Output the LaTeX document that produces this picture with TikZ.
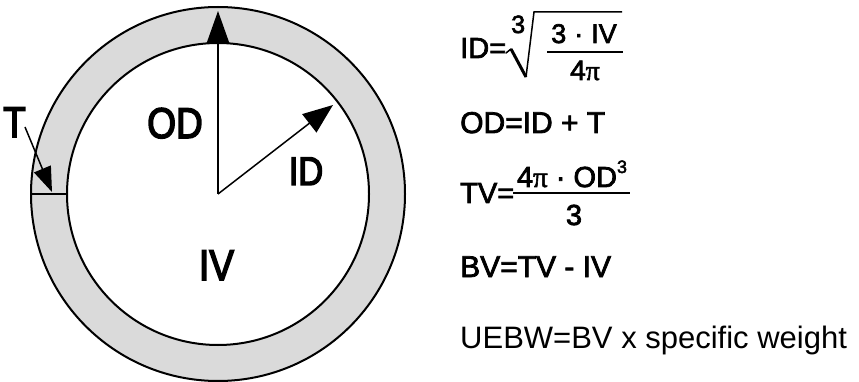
\documentclass[tikz,border=0pt]{standalone}
\usepackage{fontspec}
\setmainfont{Liberation Sans}
\newfontfamily\condf[FakeStretch=0.86,FakeBold=3.5]{Liberation Sans}
\newfontfamily\eqf[FakeBold=2.5]{Liberation Sans}
\newfontfamily\pif[FakeBold=2]{Liberation Serif}
\usetikzlibrary{arrows.meta}
\definecolor{ringgray}{RGB}{218,218,218}
\newcommand\myfs[1]{\fontsize{#1}{#1}\selectfont}
\tikzset{
  ringline/.style={line width=2pt},
  shaft/.style={line width=1.5pt},
  bigtip/.style={-{Triangle[length=33pt,width=23pt]}},
  idtip/.style={-{Triangle[length=30pt,width=23pt]}},
  ttipst/.style={-{Triangle[length=25pt,width=18pt]}},
  lbl/.style={inner sep=0pt,anchor=base,font=\condf\myfs{43}},
  eqw/.style={inner sep=0pt,anchor=base west},
  eqc/.style={inner sep=0pt,anchor=base},
  barline/.style={line width=2pt}
}
\begin{document}
\begin{tikzpicture}[x=1pt,y=-1pt]
\useasboundingbox (0,0) rectangle (859,382);
\coordinate (C) at (218,194);
\fill[ringgray,even odd rule] (C) circle[radius=187pt] (C) circle[radius=151pt];
\draw[ringline] (C) circle[radius=187pt];
\draw[ringline] (C) circle[radius=151pt];
% wall thickness marker
\coordinate (wl) at (31,194);
\coordinate (wr) at (67,194);
\draw[shaft] (wl) -- (wr);
% radii
\coordinate (odtip) at (218,11);
\coordinate (idtip) at (333,105);
\draw[shaft,bigtip] (C) -- (odtip);
\draw[shaft,idtip] (C) -- (idtip);
% T arrow
\coordinate (ts) at (25,127);
\coordinate (tt) at (52,192);
\draw[shaft,ttipst] (ts) -- (tt);
% labels
\node[lbl] (lT) at (14.5,137) {T};
\node[lbl] (lOD) at (175,138) {OD};
\node[lbl,font=\condf\myfs{40}] (lID) at (306,185) {ID};
\node[lbl] (lIV) at (216.5,280) {IV};
% formula 1
\node[eqw,font=\eqf\myfs{29}] (f1a) at (460,58) {ID=};
\node[eqw,font=\eqf\myfs{25}] (f1i) at (511,33) {3};
\draw[line width=1.5pt,line cap=round] (506,53) -- (511,49);
\draw[line width=3pt] (511,49) -- (526,77);
\draw[line width=1.5pt] (526,77) -- (534,12) -- (622,12);
\node[eqc,font=\eqf\myfs{27}] (f1n) at (584,43) {3\hspace{8pt}·\hspace{8pt}IV};
\draw[barline] (547,52) -- (623,52);
\node[eqc,font=\eqf\myfs{28}] (f1d) at (585,80) {4{\pif π}};
% formula 2
\node[eqw,font=\eqf\myfs{30}] (f2) at (460,133) {OD=ID + T};
% formula 3
\node[eqw,font=\eqf\myfs{29}] (f3a) at (460,203) {TV=};
\node[eqc,font=\eqf\myfs{29}] (f3n) at (572,187) {4{\pif π} · OD\raisebox{14pt}{\myfs{18}3}};
\draw[barline] (513,193) -- (630,193);
\node[eqc,font=\eqf\myfs{29}] (f3d) at (574,225) {3};
% formula 4
\node[eqw,font=\eqf\myfs{30}] (f4) at (460,277) {BV=TV - IV};
% formula 5
\node[eqw,font=\myfs{31}] (f5) at (460,348) {UEBW=BV x specific weight};
\end{tikzpicture}
\end{document}
